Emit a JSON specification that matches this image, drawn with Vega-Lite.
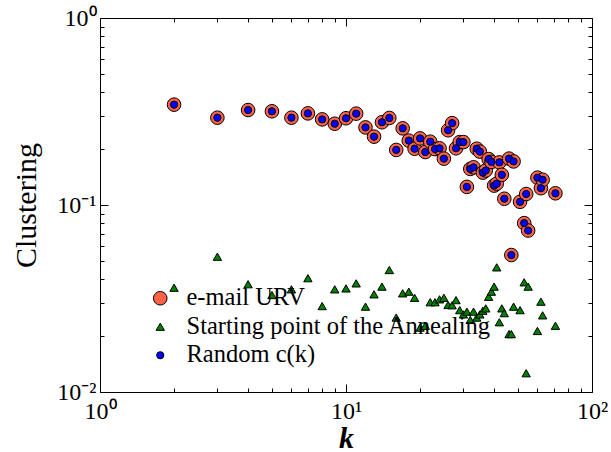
{
  "$schema": "https://vega.github.io/schema/vega-lite/v6.json",
  "width": 492,
  "height": 374,
  "autosize": {"type": "none"},
  "padding": {"left": 100, "top": 18, "right": 19, "bottom": 60},
  "background": "white",
  "config": {
    "view": {"stroke": null},
    "font": "Liberation Serif",
    "axis": {
      "domainColor": "black",
      "domainWidth": 1,
      "tickColor": "black",
      "tickWidth": 1,
      "labelColor": "black",
      "titleColor": "black",
      "labelFont": "Liberation Serif",
      "titleFont": "Liberation Serif",
      "grid": false
    }
  },
  "datasets": {
    "clustering": [
      {"k": 2, "c": 0.344, "series": "e-mail URV"},
      {"k": 3, "c": 0.293, "series": "e-mail URV"},
      {"k": 4, "c": 0.322, "series": "e-mail URV"},
      {"k": 5, "c": 0.317, "series": "e-mail URV"},
      {"k": 6, "c": 0.293, "series": "e-mail URV"},
      {"k": 7, "c": 0.309, "series": "e-mail URV"},
      {"k": 8, "c": 0.287, "series": "e-mail URV"},
      {"k": 9, "c": 0.272, "series": "e-mail URV"},
      {"k": 10, "c": 0.291, "series": "e-mail URV"},
      {"k": 11, "c": 0.308, "series": "e-mail URV"},
      {"k": 12, "c": 0.26, "series": "e-mail URV"},
      {"k": 13, "c": 0.232, "series": "e-mail URV"},
      {"k": 14, "c": 0.277, "series": "e-mail URV"},
      {"k": 15, "c": 0.292, "series": "e-mail URV"},
      {"k": 16, "c": 0.197, "series": "e-mail URV"},
      {"k": 17, "c": 0.257, "series": "e-mail URV"},
      {"k": 18, "c": 0.221, "series": "e-mail URV"},
      {"k": 19, "c": 0.2, "series": "e-mail URV"},
      {"k": 20, "c": 0.227, "series": "e-mail URV"},
      {"k": 21, "c": 0.192, "series": "e-mail URV"},
      {"k": 22, "c": 0.218, "series": "e-mail URV"},
      {"k": 23, "c": 0.199, "series": "e-mail URV"},
      {"k": 24, "c": 0.201, "series": "e-mail URV"},
      {"k": 25, "c": 0.177, "series": "e-mail URV"},
      {"k": 26, "c": 0.251, "series": "e-mail URV"},
      {"k": 27, "c": 0.274, "series": "e-mail URV"},
      {"k": 28, "c": 0.201, "series": "e-mail URV"},
      {"k": 29, "c": 0.217, "series": "e-mail URV"},
      {"k": 30, "c": 0.217, "series": "e-mail URV"},
      {"k": 31, "c": 0.125, "series": "e-mail URV"},
      {"k": 32, "c": 0.156, "series": "e-mail URV"},
      {"k": 33, "c": 0.159, "series": "e-mail URV"},
      {"k": 34, "c": 0.2, "series": "e-mail URV"},
      {"k": 35, "c": 0.193, "series": "e-mail URV"},
      {"k": 36, "c": 0.149, "series": "e-mail URV"},
      {"k": 37, "c": 0.153, "series": "e-mail URV"},
      {"k": 38, "c": 0.176, "series": "e-mail URV"},
      {"k": 39, "c": 0.17, "series": "e-mail URV"},
      {"k": 40, "c": 0.127, "series": "e-mail URV"},
      {"k": 41, "c": 0.13, "series": "e-mail URV"},
      {"k": 42, "c": 0.169, "series": "e-mail URV"},
      {"k": 43, "c": 0.145, "series": "e-mail URV"},
      {"k": 44, "c": 0.108, "series": "e-mail URV"},
      {"k": 46, "c": 0.177, "series": "e-mail URV"},
      {"k": 47, "c": 0.054, "series": "e-mail URV"},
      {"k": 48, "c": 0.171, "series": "e-mail URV"},
      {"k": 51, "c": 0.104, "series": "e-mail URV"},
      {"k": 53, "c": 0.08, "series": "e-mail URV"},
      {"k": 54, "c": 0.1145, "series": "e-mail URV"},
      {"k": 55, "c": 0.073, "series": "e-mail URV"},
      {"k": 60, "c": 0.14, "series": "e-mail URV"},
      {"k": 62, "c": 0.123, "series": "e-mail URV"},
      {"k": 63, "c": 0.1365, "series": "e-mail URV"},
      {"k": 71, "c": 0.1155, "series": "e-mail URV"},

      {"k": 2, "c": 0.0361, "series": "Starting point of the Annealing"},
      {"k": 3, "c": 0.0529, "series": "Starting point of the Annealing"},
      {"k": 4, "c": 0.0377, "series": "Starting point of the Annealing"},
      {"k": 5, "c": 0.033, "series": "Starting point of the Annealing"},
      {"k": 6, "c": 0.0354, "series": "Starting point of the Annealing"},
      {"k": 7, "c": 0.0406, "series": "Starting point of the Annealing"},
      {"k": 8, "c": 0.0288, "series": "Starting point of the Annealing"},
      {"k": 9, "c": 0.0354, "series": "Starting point of the Annealing"},
      {"k": 10, "c": 0.0358, "series": "Starting point of the Annealing"},
      {"k": 11, "c": 0.0381, "series": "Starting point of the Annealing"},
      {"k": 12, "c": 0.0286, "series": "Starting point of the Annealing"},
      {"k": 13, "c": 0.0333, "series": "Starting point of the Annealing"},
      {"k": 14, "c": 0.0366, "series": "Starting point of the Annealing"},
      {"k": 15, "c": 0.0449, "series": "Starting point of the Annealing"},
      {"k": 16, "c": 0.025, "series": "Starting point of the Annealing"},
      {"k": 17, "c": 0.0337, "series": "Starting point of the Annealing"},
      {"k": 18, "c": 0.0344, "series": "Starting point of the Annealing"},
      {"k": 19, "c": 0.0319, "series": "Starting point of the Annealing"},
      {"k": 20, "c": 0.0221, "series": "Starting point of the Annealing"},
      {"k": 21, "c": 0.0226, "series": "Starting point of the Annealing"},
      {"k": 22, "c": 0.0302, "series": "Starting point of the Annealing"},
      {"k": 23, "c": 0.0302, "series": "Starting point of the Annealing"},
      {"k": 24, "c": 0.0313, "series": "Starting point of the Annealing"},
      {"k": 25, "c": 0.0319, "series": "Starting point of the Annealing"},
      {"k": 26, "c": 0.0292, "series": "Starting point of the Annealing"},
      {"k": 27, "c": 0.0291, "series": "Starting point of the Annealing"},
      {"k": 28, "c": 0.031, "series": "Starting point of the Annealing"},
      {"k": 29, "c": 0.0274, "series": "Starting point of the Annealing"},
      {"k": 30, "c": 0.026, "series": "Starting point of the Annealing"},
      {"k": 31, "c": 0.0269, "series": "Starting point of the Annealing"},
      {"k": 32, "c": 0.0243, "series": "Starting point of the Annealing"},
      {"k": 33, "c": 0.0269, "series": "Starting point of the Annealing"},
      {"k": 34, "c": 0.025, "series": "Starting point of the Annealing"},
      {"k": 35, "c": 0.026, "series": "Starting point of the Annealing"},
      {"k": 36, "c": 0.0272, "series": "Starting point of the Annealing"},
      {"k": 37, "c": 0.028, "series": "Starting point of the Annealing"},
      {"k": 38, "c": 0.0323, "series": "Starting point of the Annealing"},
      {"k": 39, "c": 0.0344, "series": "Starting point of the Annealing"},
      {"k": 40, "c": 0.0366, "series": "Starting point of the Annealing"},
      {"k": 41, "c": 0.0464, "series": "Starting point of the Annealing"},
      {"k": 42, "c": 0.0236, "series": "Starting point of the Annealing"},
      {"k": 43, "c": 0.028, "series": "Starting point of the Annealing"},
      {"k": 44, "c": 0.0264, "series": "Starting point of the Annealing"},
      {"k": 46, "c": 0.0204, "series": "Starting point of the Annealing"},
      {"k": 47, "c": 0.0204, "series": "Starting point of the Annealing"},
      {"k": 48, "c": 0.0286, "series": "Starting point of the Annealing"},
      {"k": 51, "c": 0.0274, "series": "Starting point of the Annealing"},
      {"k": 53, "c": 0.0386, "series": "Starting point of the Annealing"},
      {"k": 54, "c": 0.0126, "series": "Starting point of the Annealing"},
      {"k": 55, "c": 0.0366, "series": "Starting point of the Annealing"},
      {"k": 60, "c": 0.0212, "series": "Starting point of the Annealing"},
      {"k": 62, "c": 0.0304, "series": "Starting point of the Annealing"},
      {"k": 63, "c": 0.0257, "series": "Starting point of the Annealing"},
      {"k": 71, "c": 0.0226, "series": "Starting point of the Annealing"},

      {"k": 2, "c": 0.344, "series": "Random c(k)"},
      {"k": 3, "c": 0.293, "series": "Random c(k)"},
      {"k": 4, "c": 0.322, "series": "Random c(k)"},
      {"k": 5, "c": 0.317, "series": "Random c(k)"},
      {"k": 6, "c": 0.293, "series": "Random c(k)"},
      {"k": 7, "c": 0.309, "series": "Random c(k)"},
      {"k": 8, "c": 0.287, "series": "Random c(k)"},
      {"k": 9, "c": 0.272, "series": "Random c(k)"},
      {"k": 10, "c": 0.291, "series": "Random c(k)"},
      {"k": 11, "c": 0.308, "series": "Random c(k)"},
      {"k": 12, "c": 0.26, "series": "Random c(k)"},
      {"k": 13, "c": 0.232, "series": "Random c(k)"},
      {"k": 14, "c": 0.277, "series": "Random c(k)"},
      {"k": 15, "c": 0.292, "series": "Random c(k)"},
      {"k": 16, "c": 0.197, "series": "Random c(k)"},
      {"k": 17, "c": 0.257, "series": "Random c(k)"},
      {"k": 18, "c": 0.221, "series": "Random c(k)"},
      {"k": 19, "c": 0.2, "series": "Random c(k)"},
      {"k": 20, "c": 0.227, "series": "Random c(k)"},
      {"k": 21, "c": 0.192, "series": "Random c(k)"},
      {"k": 22, "c": 0.218, "series": "Random c(k)"},
      {"k": 23, "c": 0.199, "series": "Random c(k)"},
      {"k": 24, "c": 0.201, "series": "Random c(k)"},
      {"k": 25, "c": 0.177, "series": "Random c(k)"},
      {"k": 26, "c": 0.251, "series": "Random c(k)"},
      {"k": 27, "c": 0.274, "series": "Random c(k)"},
      {"k": 28, "c": 0.201, "series": "Random c(k)"},
      {"k": 29, "c": 0.217, "series": "Random c(k)"},
      {"k": 30, "c": 0.217, "series": "Random c(k)"},
      {"k": 31, "c": 0.125, "series": "Random c(k)"},
      {"k": 32, "c": 0.156, "series": "Random c(k)"},
      {"k": 33, "c": 0.159, "series": "Random c(k)"},
      {"k": 34, "c": 0.2, "series": "Random c(k)"},
      {"k": 35, "c": 0.193, "series": "Random c(k)"},
      {"k": 36, "c": 0.149, "series": "Random c(k)"},
      {"k": 37, "c": 0.153, "series": "Random c(k)"},
      {"k": 38, "c": 0.176, "series": "Random c(k)"},
      {"k": 39, "c": 0.17, "series": "Random c(k)"},
      {"k": 40, "c": 0.127, "series": "Random c(k)"},
      {"k": 41, "c": 0.13, "series": "Random c(k)"},
      {"k": 42, "c": 0.169, "series": "Random c(k)"},
      {"k": 43, "c": 0.145, "series": "Random c(k)"},
      {"k": 44, "c": 0.108, "series": "Random c(k)"},
      {"k": 46, "c": 0.177, "series": "Random c(k)"},
      {"k": 47, "c": 0.054, "series": "Random c(k)"},
      {"k": 48, "c": 0.171, "series": "Random c(k)"},
      {"k": 51, "c": 0.104, "series": "Random c(k)"},
      {"k": 53, "c": 0.08, "series": "Random c(k)"},
      {"k": 54, "c": 0.1145, "series": "Random c(k)"},
      {"k": 55, "c": 0.073, "series": "Random c(k)"},
      {"k": 60, "c": 0.14, "series": "Random c(k)"},
      {"k": 62, "c": 0.123, "series": "Random c(k)"},
      {"k": 63, "c": 0.1365, "series": "Random c(k)"},
      {"k": 71, "c": 0.1155, "series": "Random c(k)"}
    ]
  },
  "data": {"name": "clustering"},
  "layer": [
    {
      "mark": {"type": "point", "filled": true, "opacity": 1, "stroke": "black", "strokeWidth": 1},
      "encoding": {
        "x": {
          "field": "k", "type": "quantitative",
          "scale": {"type": "log", "domain": [1, 100], "nice": false},
          "axis": {
            "orient": "bottom", "values": [1, 10, 100], "ticks": false,
            "labelExpr": "datum.value == 1 ? '10⁰' : datum.value == 10 ? '10¹' : '10²'",
            "labelFontSize": 24, "labelPadding": 7, "labelFlush": false, "labelOverlap": false,
            "title": "k", "titleFontSize": 30, "titleFontStyle": "italic", "titleFontWeight": "bold", "titlePadding": 0
          }
        },
        "y": {
          "field": "c", "type": "quantitative",
          "scale": {"type": "log", "domain": [0.01, 1], "nice": false},
          "axis": {
            "orient": "left", "values": [0.01, 0.1, 1], "ticks": false,
            "labelExpr": "datum.value == 1 ? '10⁰' : datum.value == 0.1 ? '10⁻¹' : '10⁻²'",
            "labelFontSize": 24, "labelPadding": 4, "labelFlush": false, "labelOverlap": false,
            "title": "Clustering", "titleFontSize": 30, "titleFontWeight": "normal", "titlePadding": 15
          }
        },
        "color": {
          "field": "series", "type": "nominal",
          "scale": {
            "domain": ["e-mail URV", "Starting point of the Annealing", "Random c(k)"],
            "range": ["#ff6347", "#008000", "#0000ff"]
          },
          "legend": {
            "orient": "none", "legendX": 48, "legendY": 268, "title": null,
            "labelFont": "Liberation Serif", "labelFontSize": 24.5, "labelColor": "black", "labelLimit": 0,
            "rowPadding": 3.5, "labelOffset": 14, "symbolStrokeColor": "black", "symbolStrokeWidth": 1
          }
        },
        "shape": {
          "field": "series", "type": "nominal",
          "scale": {
            "domain": ["e-mail URV", "Starting point of the Annealing", "Random c(k)"],
            "range": ["circle", "triangle-up", "circle"]
          },
          "legend": {
            "orient": "none", "legendX": 48, "legendY": 268, "title": null,
            "labelFont": "Liberation Serif", "labelFontSize": 24.5, "labelColor": "black", "labelLimit": 0,
            "rowPadding": 3.5, "labelOffset": 14, "symbolStrokeColor": "black", "symbolStrokeWidth": 1
          }
        },
        "size": {
          "field": "series", "type": "nominal",
          "scale": {
            "type": "ordinal",
            "domain": ["e-mail URV", "Starting point of the Annealing", "Random c(k)"],
            "range": [185, 70, 52]
          },
          "legend": {
            "orient": "none", "legendX": 48, "legendY": 268, "title": null,
            "labelFont": "Liberation Serif", "labelFontSize": 24.5, "labelColor": "black", "labelLimit": 0,
            "rowPadding": 3.5, "labelOffset": 14, "symbolStrokeColor": "black", "symbolStrokeWidth": 1
          }
        }
      }
    },
    {
      "mark": {"type": "point", "opacity": 0},
      "encoding": {
        "x": {
          "field": "k", "type": "quantitative",
          "scale": {"type": "log", "domain": [1, 100], "nice": false},
          "axis": {"orient": "bottom", "values": [1, 10, 100], "labels": false, "domain": false, "tickSize": -8, "title": null}
        },
        "y": {
          "field": "c", "type": "quantitative",
          "scale": {"type": "log", "domain": [0.01, 1], "nice": false},
          "axis": {"orient": "left", "values": [0.01, 0.1, 1], "labels": false, "domain": false, "tickSize": -8, "title": null}
        }
      }
    },
    {
      "mark": {"type": "point", "opacity": 0},
      "encoding": {
        "x": {
          "field": "k", "type": "quantitative",
          "scale": {"type": "log", "domain": [1, 100], "nice": false},
          "axis": {"orient": "bottom", "values": [2, 3, 4, 5, 6, 7, 8, 9, 20, 30, 40, 50, 60, 70, 80, 90], "labels": false, "domain": false, "tickSize": -4, "title": null}
        },
        "y": {
          "field": "c", "type": "quantitative",
          "scale": {"type": "log", "domain": [0.01, 1], "nice": false},
          "axis": {"orient": "left", "values": [0.02, 0.03, 0.04, 0.05, 0.06, 0.07, 0.08, 0.09, 0.2, 0.3, 0.4, 0.5, 0.6, 0.7, 0.8, 0.9], "labels": false, "domain": false, "tickSize": -4, "title": null}
        }
      }
    },
    {
      "mark": {"type": "point", "opacity": 0},
      "encoding": {
        "x": {
          "field": "k", "type": "quantitative",
          "scale": {"type": "log", "domain": [1, 100], "nice": false},
          "axis": {"orient": "top", "values": [1, 10, 100], "labels": false, "domain": true, "tickSize": -8, "title": null}
        },
        "y": {
          "field": "c", "type": "quantitative",
          "scale": {"type": "log", "domain": [0.01, 1], "nice": false},
          "axis": {"orient": "right", "values": [0.01, 0.1, 1], "labels": false, "domain": true, "tickSize": -8, "title": null}
        }
      }
    },
    {
      "mark": {"type": "point", "opacity": 0},
      "encoding": {
        "x": {
          "field": "k", "type": "quantitative",
          "scale": {"type": "log", "domain": [1, 100], "nice": false},
          "axis": {"orient": "top", "values": [2, 3, 4, 5, 6, 7, 8, 9, 20, 30, 40, 50, 60, 70, 80, 90], "labels": false, "domain": false, "tickSize": -4, "title": null}
        },
        "y": {
          "field": "c", "type": "quantitative",
          "scale": {"type": "log", "domain": [0.01, 1], "nice": false},
          "axis": {"orient": "right", "values": [0.02, 0.03, 0.04, 0.05, 0.06, 0.07, 0.08, 0.09, 0.2, 0.3, 0.4, 0.5, 0.6, 0.7, 0.8, 0.9], "labels": false, "domain": false, "tickSize": -4, "title": null}
        }
      }
    }
  ],
  "resolve": {"axis": {"x": "independent", "y": "independent"}}
}
